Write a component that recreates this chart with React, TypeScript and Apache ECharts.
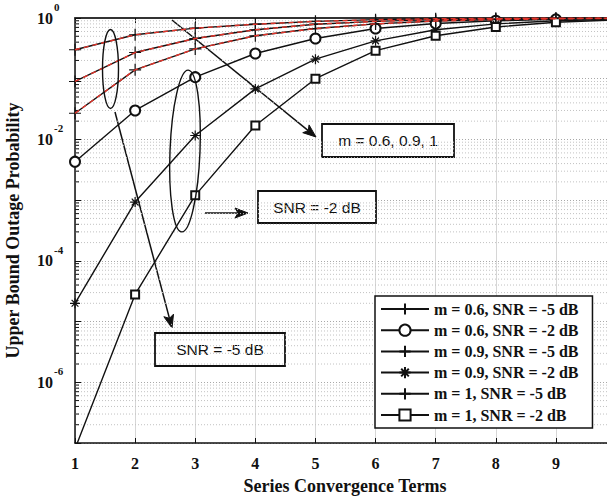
import React, { useEffect, useRef } from "react";
import * as echarts from "echarts";

// Number of series terms on the horizontal axis
const terms = [1, 2, 3, 4, 5, 6, 7, 8, 9, 10];

// Upper bound outage probability per number of terms
const m06Snr5 = [0.3, 0.53, 0.68, 0.79, 0.88, 0.94, 0.97, 0.985, 0.993, 0.997];
const m06Snr2 = [0.0043, 0.03, 0.106, 0.26, 0.46, 0.67, 0.81, 0.9, 0.95, 0.98];
const m09Snr5 = [0.09, 0.27, 0.46, 0.64, 0.79, 0.88, 0.94, 0.97, 0.985, 0.993];
const m09Snr2 = [2.0e-5, 9.3e-4, 0.0116, 0.068, 0.21, 0.42, 0.64, 0.8, 0.9, 0.95];
const m1Snr5 = [0.027, 0.14, 0.31, 0.51, 0.67, 0.8, 0.89, 0.94, 0.97, 0.985];
const m1Snr2 = [8e-8, 2.8e-5, 0.0012, 0.017, 0.1, 0.29, 0.51, 0.71, 0.85, 0.93];

const seriesNames = [
  "m = 0.6, SNR = -5 dB",
  "m = 0.6, SNR = -2 dB",
  "m = 0.9, SNR = -5 dB",
  "m = 0.9, SNR = -2 dB",
  "m = 1, SNR = -5 dB",
  "m = 1, SNR = -2 dB",
];

// decades that carry a "10^k" label on the vertical axis
const labelledExponents = [0, -2, -4, -6];

const xAxisTitle = "Series Convergence Terms";
const yAxisTitle = "Upper Bound Outage Probability";
const noteM = "m = 0.6, 0.9, 1";
const noteSnr2 = "SNR = -2 dB";
const noteSnr5 = "SNR = -5 dB";

const X_MIN = 1;
const X_MAX = 9.85;
const Y_MIN = 1e-7;
const Y_MAX = 1;

const SERIF = '"Liberation Serif", "Times New Roman", serif';
const SANS = '"Liberation Sans", Arial, sans-serif';
const INK = "#111";

const PLUS = "path://M5,0L5,10M0,5L10,5";
const STAR = "path://M5,0L5,10M0,5L10,5M1.6,1.6L8.4,8.4M1.6,8.4L8.4,1.6";

// log-scale minor grid values (2..9 of every decade)
const minorValues: number[] = [];
for (let e = -7; e < 0; e++) {
  for (let k = 2; k <= 9; k++) minorValues.push(k * Math.pow(10, e));
}

const pairs = (vals: number[]) => terms.map((t, i) => [t, vals[i]]);

function curve(name: string, vals: number[], symbol: string, size: number) {
  return {
    type: "line",
    name,
    data: pairs(vals),
    symbol,
    symbolSize: size,
    showSymbol: true,
    clip: true,
    z: 3,
    lineStyle: { color: INK, width: 1.4 },
    itemStyle: { color: INK, borderColor: INK, borderWidth: 1.2 },
  };
}

function redDash(id: string, vals: number[]) {
  return {
    type: "line",
    name: id,
    data: pairs(vals),
    symbol: "none",
    clip: true,
    silent: true,
    z: 4,
    lineStyle: { color: "#e3342a", width: 1.4, type: [5, 4] },
  };
}

function arrow(x1: number, y1: number, x2: number, y2: number) {
  const a = Math.atan2(y2 - y1, x2 - x1);
  const ux = Math.cos(a);
  const uy = Math.sin(a);
  const px = -uy;
  const py = ux;
  const L = 13;
  const W = 5;
  const N = 3;
  const bx = x2 - ux * L;
  const by = y2 - uy * L;
  const nx = x2 - ux * (L - N);
  const ny = y2 - uy * (L - N);
  return [
    {
      type: "line",
      shape: { x1, y1, x2: nx, y2: ny },
      style: { stroke: INK, lineWidth: 1.5 },
    },
    {
      type: "polygon",
      shape: {
        points: [
          [x2, y2],
          [bx + px * W, by + py * W],
          [nx, ny],
          [bx - px * W, by - py * W],
        ],
      },
      style: { fill: INK, stroke: INK, lineWidth: 1 },
    },
  ];
}

function noteBox(x: number, y: number, w: number, h: number, text: string) {
  return [
    {
      type: "rect",
      shape: { x, y, width: w, height: h },
      style: { fill: "#fff", stroke: INK, lineWidth: 1.8 },
    },
    {
      type: "text",
      x: x + w / 2,
      y: y + h / 2,
      style: {
        text,
        fill: INK,
        font: `15.5px ${SANS}`,
        align: "center",
        verticalAlign: "middle",
      },
    },
  ];
}

// "10" with a raised exponent, placed at the axis position of 10^e
function powerLabel(y: number, e: number) {
  return [
    {
      type: "text",
      x: 53,
      y,
      style: {
        text: "10",
        fill: INK,
        font: `bold 16px ${SERIF}`,
        align: "right",
        verticalAlign: "middle",
      },
    },
    {
      type: "text",
      x: 54,
      y: y - 11,
      style: {
        text: String(e),
        fill: INK,
        font: `bold 11px ${SERIF}`,
        align: "left",
        verticalAlign: "middle",
      },
    },
  ];
}

export default function App() {
  const ref = useRef<HTMLDivElement>(null);

  useEffect(() => {
    if (!ref.current) return;
    const chart = echarts.init(ref.current, null, { renderer: "svg" });

    const option: any = {
      animation: false,
      backgroundColor: "#fff",
      grid: {
        left: 75,
        right: 0,
        top: 18,
        bottom: 59,
        containLabel: false,
        outerBoundsMode: "none",
      },
      legend: {
        orient: "vertical",
        left: 375,
        top: 296,
        itemWidth: 48,
        itemHeight: 14,
        itemGap: 5.2,
        padding: [5, 14, 5, 5],
        borderColor: INK,
        borderWidth: 1.5,
        borderRadius: 0,
        backgroundColor: "#fff",
        data: seriesNames,
        textStyle: {
          fontFamily: SERIF,
          fontWeight: "bold",
          fontSize: 16,
          color: INK,
        },
      },
      xAxis: [
        {
          type: "value",
          min: X_MIN,
          max: X_MAX,
          interval: 1,
          name: xAxisTitle,
          nameLocation: "middle",
          nameGap: 34,
          nameTextStyle: {
            fontFamily: SERIF,
            fontWeight: "bold",
            fontSize: 18,
            color: INK,
            padding: [0, 0, 0, 8],
          },
          axisLine: { lineStyle: { color: INK, width: 1.5 } },
          axisTick: { inside: true, length: 5, lineStyle: { color: INK } },
          axisLabel: {
            formatter: (v: number) => (Number.isInteger(v) ? String(v) : ""),
            fontFamily: SERIF,
            fontWeight: "bold",
            fontSize: 16,
            color: INK,
            margin: 12,
          },
          splitLine: { show: true, lineStyle: { color: "#d6d6d6", width: 1 } },
        },
        {
          type: "value",
          position: "top",
          min: X_MIN,
          max: X_MAX,
          interval: 1,
          axisLine: { onZero: false, lineStyle: { color: "#333", width: 2 } },
          axisTick: { inside: true, length: 5, lineStyle: { color: INK } },
          axisLabel: { show: false },
          splitLine: { show: false },
        },
      ],
      yAxis: {
        type: "log",
        logBase: 10,
        min: Y_MIN,
        max: Y_MAX,
        interval: 1,
        name: yAxisTitle,
        nameLocation: "middle",
        nameGap: 53,
        nameTextStyle: {
          fontFamily: SERIF,
          fontWeight: "bold",
          fontSize: 18,
          color: INK,
        },
        axisLine: { show: true, lineStyle: { color: INK, width: 1.5 } },
        axisTick: { show: true, inside: true, length: 6, lineStyle: { color: INK } },
        axisLabel: { show: false },
        splitLine: {
          show: true,
          lineStyle: { color: "#a8a8a8", width: 1, type: [1, 2] },
        },
      },
      series: [
        {
          type: "custom",
          name: "minor-grid",
          silent: true,
          z: 1,
          data: minorValues.map((v) => [X_MIN, v]),
          renderItem: (params: any, api: any) => {
            const y = api.coord([X_MIN, api.value(1)])[1];
            const cs = params.coordSys;
            return {
              type: "group",
              children: [
                {
                  type: "line",
                  shape: { x1: cs.x, y1: y, x2: cs.x + cs.width, y2: y },
                  style: { stroke: "#c2c2c2", lineWidth: 1, lineDash: [1, 2] },
                },
                {
                  type: "line",
                  shape: { x1: cs.x, y1: y, x2: cs.x + 4, y2: y },
                  style: { stroke: INK, lineWidth: 1 },
                },
              ],
            };
          },
        },
        curve(seriesNames[0], m06Snr5, PLUS, 12),
        curve(seriesNames[1], m06Snr2, "emptyCircle", 10),
        curve(seriesNames[2], m09Snr5, PLUS, 12),
        curve(seriesNames[3], m09Snr2, STAR, 10),
        curve(seriesNames[4], m1Snr5, PLUS, 12),
        curve(seriesNames[5], m1Snr2, "emptyRect", 8),
        redDash("red-a", m06Snr5),
        redDash("red-b", m09Snr5),
        redDash("red-c", m1Snr5),
      ],
    };

    chart.setOption(option);

    // tick labels of the log axis, placed through the axis scale
    const tickLabels = labelledExponents.flatMap((e) => {
      const y = chart.convertToPixel({ yAxisIndex: 0 }, Math.pow(10, e)) as number;
      return powerLabel(y, e);
    });

    chart.setOption({
      graphic: [
        ...tickLabels,
        {
          type: "ellipse",
          x: 110.5,
          y: 69,
          shape: { cx: 0, cy: 0, rx: 8, ry: 39.5 },
          style: { fill: "none", stroke: INK, lineWidth: 1.4 },
          z: 10,
        },
        {
          type: "ellipse",
          x: 185,
          y: 151,
          rotation: -0.04,
          shape: { cx: 0, cy: 0, rx: 15, ry: 81 },
          style: { fill: "none", stroke: INK, lineWidth: 1.4 },
          z: 10,
        },
        ...arrow(115, 112, 172, 328),
        ...arrow(172, 20, 316, 137),
        ...arrow(205, 213, 248, 213),
        ...noteBox(322, 124, 132, 33, noteM),
        ...noteBox(258, 191, 118, 32, noteSnr2),
        ...noteBox(155, 333, 130, 33, noteSnr5),
      ],
    });

    return () => chart.dispose();
  }, []);

  return (
    <div
      ref={ref}
      style={{ position: "absolute", left: 0, top: 0, width: 607, height: 502 }}
    />
  );
}
